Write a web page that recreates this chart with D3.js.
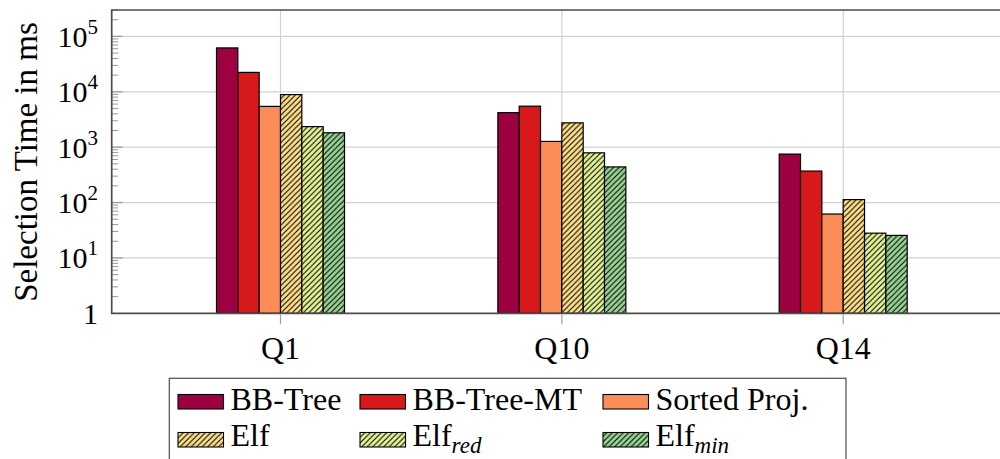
<!DOCTYPE html>
<html>
<head>
<meta charset="utf-8">
<script src="https://cdn.jsdelivr.net/npm/d3@7"></script>
<style>
  html, body { margin: 0; padding: 0; background: #fff; }
  text { font-family: "Liberation Serif", "Times New Roman", Times, Tinos, "Noto Serif", "DejaVu Serif", FreeSerif, serif; }
</style>
</head>
<body>
<svg id="chart" width="1000" height="459"></svg>
<script>
// Query categories and series (selection time in ms, log scale)
const categories = ["Q1", "Q10", "Q14"];
const seriesNames = ["BB-Tree", "BB-Tree-MT", "Sorted Proj.", "Elf", "Elf_red", "Elf_min"];
const bbTree     = [62000, 4200, 750];
const bbTreeMT   = [22400, 5500, 370];
const sortedProj = [5450, 1270, 62];
const elf        = [8900, 2750, 113];
const elfRed     = [2350, 790, 28];
const elfMin     = [1820, 440, 25.5];
const yTickValues = [1, 10, 100, 1000, 10000, 100000];

const seriesValues = [bbTree, bbTreeMT, sortedProj, elf, elfRed, elfMin];
const seriesColors = ["#9e0142", "#d7191c", "#fc8d59", "#fee08b", "#e6f598", "#99d594"];
const seriesHatched = [false, false, false, true, true, true];

const svg = d3.select("#chart");
const plot = { left: 111.7, right: 1012, top: 10, bottom: 313.3 };

const x = d3.scalePoint().domain(categories).range([plot.left, plot.right]).padding(0.6);
const y = d3.scaleLog().domain([1, 3e5]).range([plot.bottom, plot.top]);
const inner = d3.scaleBand().domain(seriesNames).range([-64, 64]).paddingInner(0);

// Hatch patterns (north-east lines over a coloured fill)
const defs = svg.append("defs");
const hatchSize = 5.5;
seriesNames.forEach((name, i) => {
  if (!seriesHatched[i]) return;
  const p = defs.append("pattern")
    .attr("id", "hatch" + i)
    .attr("patternUnits", "userSpaceOnUse")
    .attr("width", hatchSize).attr("height", hatchSize);
  p.append("rect").attr("width", hatchSize).attr("height", hatchSize).attr("fill", seriesColors[i]);
  p.append("path")
    .attr("d", `M0,${hatchSize} L${hatchSize},0 M${-hatchSize / 2},${hatchSize / 2} L${hatchSize / 2},${-hatchSize / 2} M${hatchSize / 2},${hatchSize * 1.5} L${hatchSize * 1.5},${hatchSize / 2}`)
    .attr("stroke", "#000").attr("stroke-width", 1.1);
});
const fillFor = i => seriesHatched[i] ? `url(#hatch${i})` : seriesColors[i];

// Grid
const grid = svg.append("g").attr("stroke", "#d2d2d2").attr("stroke-width", 1.2);
grid.selectAll("line.h").data(yTickValues.slice(1)).join("line")
  .attr("x1", plot.left).attr("x2", plot.right)
  .attr("y1", d => y(d)).attr("y2", d => y(d));
grid.selectAll("line.v").data(categories).join("line")
  .attr("x1", d => x(d)).attr("x2", d => x(d))
  .attr("y1", plot.top).attr("y2", plot.bottom);

// Minor ticks on the y axis (2..9 x 10^k)
const minor = [];
for (let k = 0; k <= 5; k++) for (let m = 2; m <= 9; m++) {
  const v = m * Math.pow(10, k);
  if (v <= 3e5) minor.push(v);
}
svg.append("g").attr("stroke", "#9a9a9a").attr("stroke-width", 1)
  .selectAll("line").data(minor).join("line")
  .attr("x1", plot.left).attr("x2", plot.left + 6.5)
  .attr("y1", d => y(d)).attr("y2", d => y(d));
svg.append("g").attr("stroke", "#9a9a9a").attr("stroke-width", 1.2)
  .selectAll("line").data(yTickValues.slice(1)).join("line")
  .attr("x1", plot.left).attr("x2", plot.left + 11)
  .attr("y1", d => y(d)).attr("y2", d => y(d));

// Bars
const bars = svg.append("g");
seriesNames.forEach((name, i) => {
  bars.append("g").selectAll("rect")
    .data(categories.map((c, j) => ({ c, v: seriesValues[i][j] })))
    .join("rect")
    .attr("x", d => x(d.c) + inner(name))
    .attr("width", inner.bandwidth())
    .attr("y", d => y(d.v))
    .attr("height", d => y(1) - y(d.v))
    .attr("fill", fillFor(i))
    .attr("stroke", "#000").attr("stroke-width", 1.2);
});

// Axis frame
const frame = svg.append("g").attr("stroke", "#4d4d4d").attr("stroke-width", 1.7).attr("fill", "none");
frame.append("path").attr("d", `M${plot.right},${plot.top} H${plot.left} V${plot.bottom} H${plot.right}`);

// X ticks and labels
svg.append("g").attr("stroke", "#a0a0a0").attr("stroke-width", 1.2)
  .selectAll("line").data(categories).join("line")
  .attr("x1", d => x(d)).attr("x2", d => x(d))
  .attr("y1", plot.bottom + 1).attr("y2", plot.bottom + 11);
svg.append("g").selectAll("text").data(categories).join("text")
  .attr("x", d => x(d)).attr("y", 358.5)
  .attr("text-anchor", "middle").attr("font-size", 32).attr("fill", "#000")
  .text(d => d);

// Y tick labels (powers of ten)
const yLabels = svg.append("g").attr("fill", "#000");
yTickValues.forEach(v => {
  const exp = Math.round(Math.log10(v));
  const t = yLabels.append("text")
    .attr("x", 98).attr("y", y(v) + 10.5)
    .attr("text-anchor", "end").attr("font-size", 30);
  if (exp === 0) {
    t.text("1");
  } else {
    t.append("tspan").text("10");
    t.append("tspan").attr("font-size", 21).attr("dy", -13).text(exp);
  }
});

// Y axis title
svg.append("text")
  .attr("transform", `translate(37,162) rotate(-90)`)
  .attr("text-anchor", "middle").attr("font-size", 33).attr("fill", "#000")
  .text("Selection Time in ms");

// Legend
const legend = svg.append("g");
legend.append("rect")
  .attr("x", 169.3).attr("y", 378.3).attr("width", 676.7).attr("height", 100)
  .attr("fill", "#fff").attr("stroke", "#4d4d4d").attr("stroke-width", 1.2);
const colX = [178, 360, 603];
const rowY = [394.5, 432.5];
const rowBase = [410, 446];
seriesNames.forEach((name, i) => {
  const col = i % 3, row = Math.floor(i / 3);
  legend.append("rect")
    .attr("x", colX[col]).attr("y", rowY[row])
    .attr("width", 45.5).attr("height", 14.5)
    .attr("fill", fillFor(i)).attr("stroke", "#000").attr("stroke-width", 1.1);
  const t = legend.append("text")
    .attr("x", colX[col] + 52.5).attr("y", rowBase[row])
    .attr("font-size", 32).attr("fill", "#000");
  const parts = name.split("_");
  t.append("tspan").text(parts[0]);
  if (parts[1]) {
    t.append("tspan").attr("font-size", 23).attr("font-style", "italic").attr("dy", 6.5).text(parts[1]);
  }
});
</script>
</body>
</html>
